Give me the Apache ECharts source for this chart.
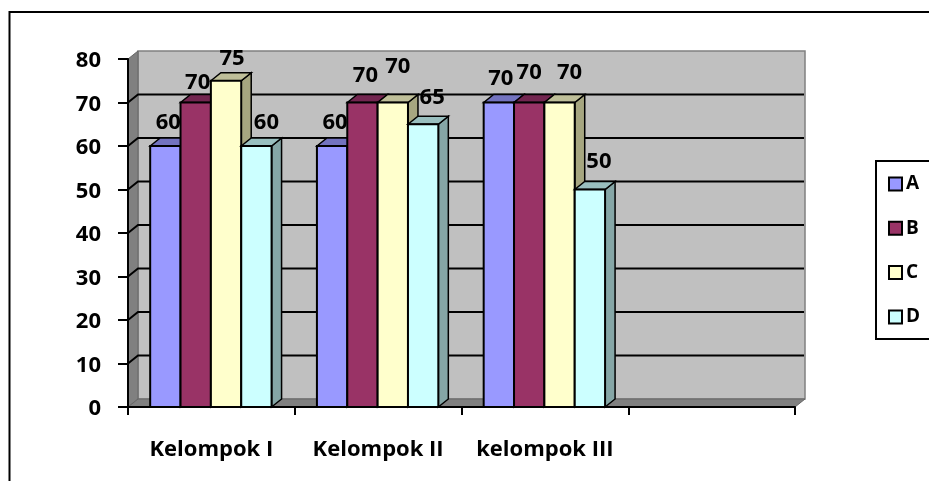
<!DOCTYPE html>
<html><head><meta charset="utf-8">
<style>html,body{margin:0;padding:0;background:#fff}#c{width:929px;height:481px}</style>
<script src="https://cdn.jsdelivr.net/npm/echarts@6/dist/echarts.min.js"></script>
</head><body><div id="c"></div>
<script>
const categories = ['Kelompok I', 'Kelompok II', 'kelompok III', ''];
const seriesNames = ['A', 'B', 'C', 'D'];
const valuesA = [60, 60, 70];
const valuesB = [70, 70, 70];
const valuesC = [75, 70, 70];
const valuesD = [60, 65, 50];
const yTicks = [10, 20, 30, 40, 50, 60, 70, 80];

const allValues = [valuesA, valuesB, valuesC, valuesD];
const colors = ['#9999FF', '#993366', '#FFFFCC', '#CCFFFF'];
const topColors = ['#7373BF', '#732650', '#BFBF99', '#99BFBF'];
const sideColors = ['#6B6BB3', '#6B2447', '#A6A680', '#85A6A6'];
// hand placement of the value labels, relative to the top-centre of each bar
const labelNudges = [
  [[3, -23], [3, -23], [2, -24]],
  [[2, -20], [3, -27], [0, -30]],
  [[6, -22], [5, -36], [10, -30]],
  [[10, -23], [9, -27], [9, -28]]
];
const FONT = '"Open Sans", "Noto Sans", sans-serif';
const DX = 10, DY = 8, BAR_SHARE = 0.182;

function poly(points, fill, stroke, lw) {
  return { type: 'polygon', shape: { points }, style: { fill, stroke, lineWidth: lw } };
}

const wallSeries = {
  type: 'custom', silent: true, z: 1,
  data: [[0, 0]],
  encode: { x: 0, y: 1 },
  renderItem(params) {
    const g = params.coordSys;
    const l = g.x, r = g.x + g.width, t = g.y, b = g.y + g.height;
    return { type: 'group', children: [
      poly([[l + DX, t - DY], [r + DX, t - DY], [r + DX, b - DY], [l + DX, b - DY]], '#C0C0C0', '#808080', 1.5),
      poly([[l, t], [l + DX, t - DY], [l + DX, b - DY], [l, b]], '#808080', '#666', 1),
      poly([[l, b], [l + DX, b - DY], [r + DX, b - DY], [r, b]], '#808080', '#666', 1)
    ]};
  }
};

const gridSeries = {
  type: 'custom', silent: true, z: 2,
  data: yTicks.map(v => [0, v]),
  encode: { x: 0, y: 1 },
  renderItem(params, api) {
    const g = params.coordSys;
    const y = api.coord([0, api.value(1)])[1];
    if (api.value(1) === 80) return { type: 'group', children: [] };
    return { type: 'polyline',
      shape: { points: [[g.x, y], [g.x + DX, y - DY], [g.x + g.width + DX - 1, y - DY]] },
      style: { fill: null, stroke: '#000', lineWidth: 2 } };
  }
};

const barSeries = seriesNames.map((name, si) => ({
  name, type: 'custom', z: 3 + si,
  itemStyle: { color: colors[si], borderColor: '#000', borderWidth: 2 },
  data: allValues[si].map((v, i) => [i, v]),
  encode: { x: 0, y: 1 },
  renderItem(params, api) {
    const cat = api.value(0), val = api.value(1);
    const top = api.coord([cat, val]), base = api.coord([cat, 0]);
    const w = api.size([1, 0])[0] * BAR_SHARE;
    const x0 = top[0] + (si - 2) * w - 0.5, x1 = x0 + w;
    const nudge = labelNudges[si][cat];
    return { type: 'group', children: [
      poly([[x1, base[1]], [x1 + DX, base[1] - DY], [x1 + DX, top[1] - DY], [x1, top[1]]], sideColors[si], '#000', 1.5),
      poly([[x0, top[1]], [x0 + DX, top[1] - DY], [x1 + DX, top[1] - DY], [x1, top[1]]], topColors[si], '#000', 1.5),
      poly([[x0, base[1]], [x0, top[1]], [x1, top[1]], [x1, base[1]]], colors[si], '#000', 2),
      { type: 'text', z2: 100, style: {
          x: (x0 + x1) / 2 + nudge[0], y: top[1] + nudge[1], text: String(val),
          align: 'center', verticalAlign: 'middle',
          font: 'bold 22px ' + FONT, fill: '#000' } }
    ]};
  }
}));

const chart = echarts.init(document.getElementById('c'), null, { renderer: 'canvas' });
chart.setOption({
  animation: false,
  backgroundColor: '#fff',
  grid: { left: 128, top: 59, width: 667, height: 348, containLabel: false },
  xAxis: {
    type: 'category', data: categories, z: 20,
    axisLine: { show: true, lineStyle: { color: '#000', width: 2 } },
    axisTick: { show: true, length: 8, lineStyle: { color: '#000', width: 2 } },
    axisLabel: { color: '#000', fontFamily: FONT, fontWeight: 'bold', fontSize: 22, margin: 32, interval: 0 },
    splitLine: { show: false }
  },
  yAxis: {
    type: 'value', min: 0, max: 80, interval: 10, z: 20,
    axisLine: { show: true, lineStyle: { color: '#000', width: 2 } },
    axisTick: { show: true, length: 10, lineStyle: { color: '#000', width: 2 } },
    axisLabel: {
      margin: 27, formatter: '{n|{value}}', verticalAlign: 'middle',
      rich: { n: { color: '#000', fontFamily: FONT, fontWeight: 'bold', fontSize: 22, lineHeight: 20, height: 20, padding: [4, 0, 0, 0] } }
    },
    splitLine: { show: false }
  },
  legend: {
    orient: 'vertical', left: 876, top: 161,
    data: seriesNames, icon: 'rect', itemWidth: 13, itemHeight: 13, itemGap: 22.3,
    padding: [12, 30, 11, 12], align: 'left',
    backgroundColor: '#fff', borderColor: '#000', borderWidth: 2, borderRadius: 0,
    selectedMode: false,
    itemStyle: { borderColor: '#000', borderWidth: 2 },
    textStyle: { color: '#000', fontFamily: FONT, fontWeight: 'bold', fontSize: 19, padding: [0, 0, 0, -1], height: 22, lineHeight: 22 }
  },
  graphic: [
    { type: 'polyline', silent: true, z: 0,
      shape: { points: [[9.5, 481], [9.5, 12], [929, 12]] },
      style: { fill: null, stroke: '#000', lineWidth: 2 } }
  ],
  series: [wallSeries, gridSeries, ...barSeries]
});
</script></body></html>
